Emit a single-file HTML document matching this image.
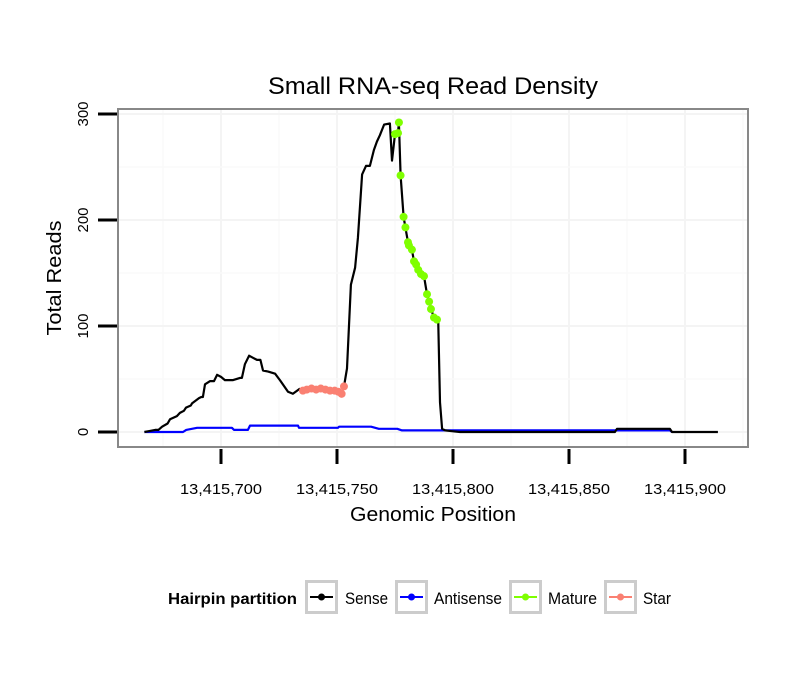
<!DOCTYPE html>
<html><head><meta charset="utf-8"><style>
body{margin:0;background:#fff;font-family:"Liberation Sans",sans-serif;}
svg text{font-family:"Liberation Sans",sans-serif;}
</style></head><body>
<svg id="chart" width="810" height="690" xmlns="http://www.w3.org/2000/svg">
<rect width="810" height="690" fill="#fff"/>
<text x="433" y="94" font-size="24" text-anchor="middle" textLength="330" lengthAdjust="spacingAndGlyphs">Small RNA-seq Read Density</text>
<g id="grid"></g>
<g id="series"></g>
<rect x="118" y="109" width="630" height="338" fill="none" stroke="#888" stroke-width="2"/>
<g id="axes"></g>
<text x="433" y="521" font-size="20" text-anchor="middle" textLength="166" lengthAdjust="spacingAndGlyphs">Genomic Position</text>
<text transform="translate(61,278) rotate(-90)" font-size="20" text-anchor="middle" textLength="115" lengthAdjust="spacingAndGlyphs">Total Reads</text>
<g>
<text x="168" y="604" font-size="16" font-weight="bold" textLength="129" lengthAdjust="spacingAndGlyphs">Hairpin partition</text>
<g>
<rect x="306.5" y="581.5" width="30" height="31" fill="#fff" stroke="#ccc" stroke-width="3"/>
<line x1="310" y1="597" x2="333" y2="597" stroke="#000" stroke-width="2"/><circle cx="321.5" cy="597" r="3.5" fill="#000"/>
<text x="345" y="604" font-size="17" textLength="43" lengthAdjust="spacingAndGlyphs">Sense</text></g>
<g>
<rect x="396.5" y="581.5" width="30" height="31" fill="#fff" stroke="#ccc" stroke-width="3"/>
<line x1="400" y1="597" x2="423" y2="597" stroke="#0000ff" stroke-width="2"/><circle cx="411.5" cy="597" r="3.5" fill="#0000ff"/>
<text x="434" y="604" font-size="17" textLength="68" lengthAdjust="spacingAndGlyphs">Antisense</text></g>
<g>
<rect x="510.5" y="581.5" width="30" height="31" fill="#fff" stroke="#ccc" stroke-width="3"/>
<line x1="514" y1="597" x2="537" y2="597" stroke="#7fff00" stroke-width="2"/><circle cx="525.5" cy="597" r="3.5" fill="#7fff00"/>
<text x="548" y="604" font-size="17" textLength="49" lengthAdjust="spacingAndGlyphs">Mature</text></g>
<g>
<rect x="605.5" y="581.5" width="30" height="31" fill="#fff" stroke="#ccc" stroke-width="3"/>
<line x1="609" y1="597" x2="632" y2="597" stroke="#fa8072" stroke-width="2"/><circle cx="620.5" cy="597" r="3.5" fill="#fa8072"/>
<text x="643" y="604" font-size="17" textLength="28" lengthAdjust="spacingAndGlyphs">Star</text></g>
</g>
</svg>
<script>
const BASE = 13415700;
const xTicks = [13415700, 13415750, 13415800, 13415850, 13415900];
const xTickLabels = ["13,415,700", "13,415,750", "13,415,800", "13,415,850", "13,415,900"];
const yTicks = [0, 100, 200, 300];
const yTickLabels = ["0", "100", "200", "300"];
// offsets from BASE, values in reads
const senseAPos = [-33, -30.6, -28.4, -27, -25.4, -23, -22, -19, -17.7, -16, -15.1, -13, -12.5, -9.5, -8.5, -7.8, -6.9, -4.7, -3, -1.7, 0, 1.7, 5.2, 8.2, 9, 10.3, 12.1, 13.8, 15.5, 17, 18.1, 20.3, 23.3, 25.4, 28.9, 31, 34.1];
const senseAVal = [0, 1, 2, 2, 5, 8, 12, 15, 18, 20, 23, 25, 27, 32, 33, 33, 45, 48, 48, 54, 52, 49, 49, 51, 51, 64, 72, 70, 68, 68, 58, 57, 55, 49, 38, 36, 41];
const starPos = [35.3, 37, 39, 41, 43, 45, 47, 49, 50.5, 52, 53];
const starVal = [39, 40, 41, 40, 41, 40, 39, 39, 38, 36, 43];
const senseBPos = [53, 54.3, 56, 57.8, 59, 60.8, 62.5, 64.2, 65.9, 67.2, 68.5, 70.3, 72.8, 73.7, 75, 76.3, 76.7, 77.4, 78.7, 79.5, 80.6, 81, 82.3, 83.2, 84.1, 85, 86.2, 87.5, 88.8, 89.7, 90.5, 91.8, 93.1, 93.6, 94.4, 95.3, 96.6, 99.6, 103, 169.8, 170.7, 193.5, 194.4, 214.2];
const senseBVal = [43, 60, 139, 155, 183, 243, 251, 251, 266, 274, 280, 290, 291, 256, 281, 282, 292, 242, 203, 193, 179, 176, 172, 161, 158, 153, 149, 147, 130, 123, 116, 108, 106, 106, 28, 3, 1.5, 0.8, 0, 0, 3, 3, 0, 0];
const maturePos = [75, 76.3, 76.7, 77.4, 78.7, 79.5, 80.6, 81, 82.3, 83.2, 84.1, 85, 86.2, 87.5, 88.8, 89.7, 90.5, 91.8, 93.1];
const matureVal = [281, 282, 292, 242, 203, 193, 179, 176, 172, 161, 158, 153, 149, 147, 130, 123, 116, 108, 106];
const antiPos = [-33, -16.4, -15, -10.3, 4.7, 5.6, 11.6, 12.5, 33.2, 33.6, 34.5, 50.4, 50.9, 52, 54, 64.7, 68, 76, 78, 96.6, 169.8, 170.7, 193.5, 194.4];
const antiVal = [0, 0, 2, 4, 4, 2, 2, 6, 6, 4, 4, 4, 5, 5, 5, 5, 3, 3, 1.5, 1.5, 1.5, 1.5, 1.5, 0];

const xs = p => 221 + (p - BASE) * 2.32;
const xo = o => xs(BASE + o);
const ys = v => 432 - v * 1.06;
const NS = "http://www.w3.org/2000/svg";
const grid = document.getElementById('grid'), series = document.getElementById('series'), axes = document.getElementById('axes');
function mk(tag, attrs, parent){const e=document.createElementNS(NS,tag);for(const k in attrs)e.setAttribute(k,attrs[k]);parent.appendChild(e);return e;}

// gridlines
const gx = [xTicks[0]-25].concat(xTicks.flatMap(p=>[p,p+25]));
gx.forEach((p,i)=>{
  const major = xTicks.includes(p);
  const l = mk('line',{x1:xs(p),x2:xs(p),y1:110,y2:446,stroke:major?'#f4f4f4':'#fafafa','stroke-width':major?2:1.5},grid);
   
});
yTicks.forEach((v,i) => {
  const l = mk('line',{x1:119,x2:747,y1:ys(v),y2:ys(v),stroke:'#f4f4f4','stroke-width':2},grid);
   
  if (ys(v+50) > 110) {
    const lm = mk('line',{x1:119,x2:747,y1:ys(v+50),y2:ys(v+50),stroke:'#fafafa','stroke-width':1.5},grid);
     
  }
});

function line(pos, val, color, name){
  const d = pos.map((p,i)=>(i?'L':'M')+xo(p).toFixed(1)+','+ys(val[i]).toFixed(1)).join(' ');
  const e = mk('path',{d:d,fill:'none',stroke:color,'stroke-width':2.2,'stroke-linejoin':'round'},series);
  
  
}
function points(pos, val, color, name){
  pos.forEach((p,i)=>{
    const c = mk('circle',{cx:xo(p),cy:ys(val[i]),r:4,fill:color},series);
    
    
  });
}
line(antiPos, antiVal, '#0000ff', 'antisense-line');
line(senseAPos, senseAVal, '#000', 'sense-line-left');
line(senseBPos, senseBVal, '#000', 'sense-line-right');
line(starPos, starVal, '#fa8072', 'star-line');
points(starPos, starVal, '#fa8072', 'star-point');
points(maturePos, matureVal, '#7fff00', 'mature-point');

xTicks.forEach((p,i)=>{
  const t = mk('line',{x1:xs(p),x2:xs(p),y1:449,y2:464,stroke:'#000','stroke-width':3},axes);
   
  const tx = mk('text',{x:xs(p),y:494,'font-size':15,'text-anchor':'middle',textLength:82,lengthAdjust:'spacingAndGlyphs'},axes);
  tx.textContent = xTickLabels[i];
   
});
yTicks.forEach((v,i)=>{
  const t = mk('line',{x1:98,x2:117,y1:ys(v),y2:ys(v),stroke:'#000','stroke-width':3},axes);
   
  const tx = mk('text',{transform:`translate(88,${ys(v)}) rotate(-90)`,'font-size':15,'text-anchor':'middle'},axes);
  tx.textContent = yTickLabels[i];
   
});
</script>
</body></html>
